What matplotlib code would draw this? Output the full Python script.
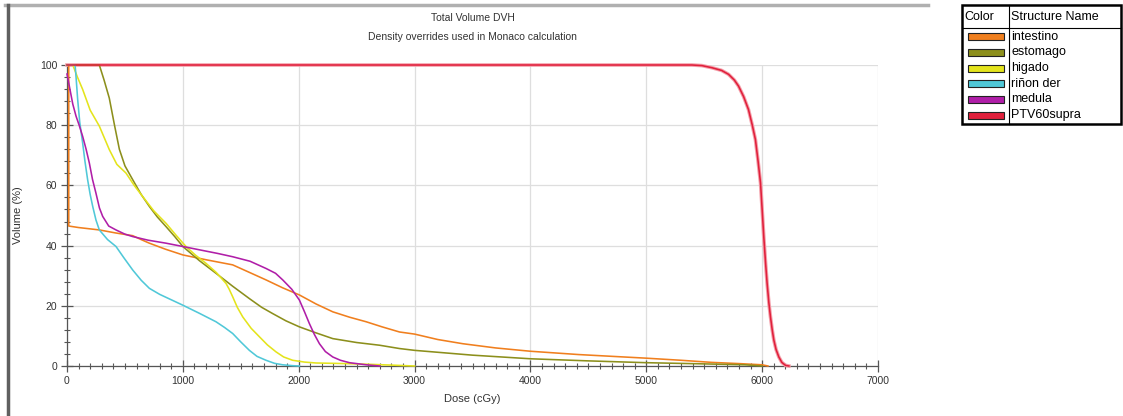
import matplotlib.pyplot as plt
from matplotlib.patches import Rectangle
from matplotlib.lines import Line2D
from matplotlib.ticker import MultipleLocator

plt.rcParams['font.family'] = ['Liberation Sans', 'DejaVu Sans']

structures = ['intestino', 'estomago', 'higado', 'riñon der', 'medula', 'PTV60supra']
colors = ['#f07f1e', '#8c8f1c', '#e4e41c', '#50c8d8', '#b01ea8', '#e0203c']

intestino_dose = [0, 15, 15, 100, 280, 420, 567, 640, 711, 850, 1000, 1200, 1430, 1580,
                  1718, 1860, 2006, 2150, 2294, 2440, 2582, 2720, 2870, 3000, 3200, 3417,
                  3700, 4000, 4417, 5000, 5300, 5566, 5800, 6000, 6050]
intestino_vol = [100, 100, 46.5, 46, 45.2, 44.2, 43.3, 42, 40.8, 38.8, 36.9, 35.3, 33.6, 31,
                 28.6, 26, 23.6, 20.6, 18, 16.2, 14.7, 13, 11.3, 10.6, 8.8, 7.4,
                 6, 4.9, 3.8, 2.6, 1.9, 1.2, 0.8, 0.4, 0]

estomago_dose = [0, 279, 320, 365, 410, 452, 500, 567, 640, 711, 780, 855, 930, 1000,
                 1143, 1286, 1430, 1574, 1680, 1776, 1890, 2006, 2150, 2294, 2500, 2698,
                 2870, 3000, 3500, 4000, 4500, 5000, 5500, 5850, 6000]
estomago_vol = [100, 100, 95, 89, 80, 72, 66.5, 61.9, 57, 53, 49.5, 46.3, 43, 39.7,
                35, 30.8, 26.5, 22.4, 19.5, 17.4, 15, 13, 11, 9.1, 7.8, 6.9,
                5.8, 5.2, 3.6, 2.4, 1.7, 1.1, 0.7, 0.4, 0]

higado_dose = [0, 50, 90, 135, 200, 279, 365, 430, 509, 580, 653, 750, 855, 940, 1027,
               1110, 1200, 1290, 1373, 1400, 1430, 1470, 1517, 1590, 1661, 1730, 1804,
               1870, 1948, 2050, 2150, 2400, 2582, 2800, 3000]
higado_vol = [100, 100, 96, 91.9, 85, 79.7, 71.9, 67, 64.1, 60, 56.3, 51.5, 47.4, 43.5, 39.7,
              36.8, 34.1, 31, 27.4, 25.5, 23, 19.5, 16.3, 12.5, 9.7, 7, 4.7,
              3, 1.9, 1.3, 1, 0.8, 0.6, 0.3, 0]

rinon_dose = [0, 70, 80, 92, 110, 135, 155, 178, 200, 222, 250, 279, 350, 423, 490, 567,
              640, 711, 800, 900, 1000, 1143, 1286, 1360, 1430, 1500, 1574, 1640, 1718,
              1790, 1862, 1950, 2006]
rinon_vol = [100, 100, 95, 88.6, 81, 74.1, 68, 61.9, 57, 53, 48.5, 45.2, 42, 39.7, 36, 31.9,
             28.5, 25.8, 23.8, 22, 20.2, 17.5, 14.7, 12.8, 10.8, 8, 5.2, 3.2, 1.9,
             0.9, 0.4, 0.1, 0]

medula_dose = [0, 20, 50, 78, 105, 135, 165, 193, 220, 250, 280, 308, 360, 423, 500, 567,
               700, 855, 1000, 1143, 1300, 1430, 1580, 1718, 1800, 1862, 1940, 2006, 2050,
               2092, 2135, 2179, 2230, 2294, 2360, 2438, 2582, 2700]
medula_vol = [97, 93, 87, 83, 80, 76.3, 72, 67.4, 62, 57.4, 52.5, 49.7, 46.5, 45.2, 43.8, 43,
              41.8, 40.8, 39.7, 38.6, 37.4, 36.3, 34.8, 32.4, 30.8, 28.6, 25.5, 21.9, 18,
              14.1, 10.5, 7.4, 4.8, 3, 1.9, 1.1, 0.4, 0]

ptv_dose = [0, 5394, 5480, 5566, 5650, 5710, 5760, 5796, 5840, 5882, 5915, 5942, 5965,
            5986, 6000, 6014, 6030, 6043, 6058, 6072, 6087, 6101, 6120, 6144, 6170, 6202, 6231]
ptv_vol = [100, 100, 99.8, 99.1, 98.2, 96.9, 95, 93, 89.5, 85.2, 80, 75.2, 68,
           60.8, 52, 43, 34, 27.4, 21, 16.3, 12, 8.6, 5.5, 3, 1.2, 0.2, 0]

doses = [intestino_dose, estomago_dose, higado_dose, rinon_dose, medula_dose, ptv_dose]
vols = [intestino_vol, estomago_vol, higado_vol, rinon_vol, medula_vol, ptv_vol]

W, H = 1123, 416
fig = plt.figure(figsize=(W / 100, H / 100), dpi=100)
ax = fig.add_axes([67 / W, 1 - 366 / H, (878 - 67) / W, (366 - 65) / H])

for d, v, c in zip(doses, vols, colors):
    if c == colors[-1]:
        # PTV curve: pink halo like the original screenshot
        ax.plot(d, v, color='#f4a0aa', lw=2.6, zorder=3, clip_on=False)
    ax.plot(d, v, color=c, lw=1.15, zorder=4, clip_on=False)

ax.set_xlim(0, 7000)
ax.set_ylim(0, 100)
ax.xaxis.set_major_locator(MultipleLocator(1000))
ax.xaxis.set_minor_locator(MultipleLocator(100))
ax.yaxis.set_major_locator(MultipleLocator(20))
ax.yaxis.set_minor_locator(MultipleLocator(4))
ax.grid(True, which='major', color='#dedede', lw=0.9, zorder=0)
ax.tick_params(which='major', direction='inout', length=8, width=0.9, color='#555555',
               labelsize=7.5, labelcolor='#333333', pad=3)
ax.tick_params(which='minor', direction='inout', length=4, width=0.8, color='#555555')
for s in ['top', 'right']:
    ax.spines[s].set_visible(False)
for s in ['left', 'bottom']:
    ax.spines[s].set_color('#555555')
    ax.spines[s].set_linewidth(0.9)

ax.set_xlabel('Dose (cGy)', fontsize=8, color='#333333', labelpad=6)
ax.set_ylabel('Volume (%)', fontsize=8, color='#333333', labelpad=12)

cx = 0.5 * (67 + 878) / W
fig.text(cx, 1 - 18 / H, 'Total Volume DVH', ha='center', va='center',
         fontsize=7.5, color='#333333')
fig.text(cx, 1 - 37 / H, 'Density overrides used in Monaco calculation',
         ha='center', va='center', fontsize=7.5, color='#333333')

# gray frame of the plot window
fig.add_artist(Line2D([5 / W, 928 / W], [1 - 5 / H, 1 - 5 / H], color='#b0b0b0', lw=2.5))
fig.add_artist(Line2D([8 / W, 8 / W], [0, 1 - 5 / H], color='#606060', lw=2.5))

# legend table
lx0, lx1, ly0, ly1 = 962, 1121, 5, 124
colx = 1009
head_y = 28
fig.add_artist(Rectangle((lx0 / W, 1 - ly1 / H), (lx1 - lx0) / W, (ly1 - ly0) / H,
                         fill=False, ec='black', lw=1.8))
fig.add_artist(Line2D([colx / W, colx / W], [1 - ly1 / H, 1 - ly0 / H], color='black', lw=0.8))
fig.add_artist(Line2D([lx0 / W, lx1 / W], [1 - head_y / H, 1 - head_y / H],
                      color='black', lw=0.8))
fig.text((lx0 + 2) / W, 1 - 17 / H, 'Color', fontsize=9, va='center', ha='left')
fig.text((colx + 2) / W, 1 - 17 / H, 'Structure Name', fontsize=9, va='center', ha='left')
row_h = (ly1 - head_y - 2) / len(structures)
for i, (name, c) in enumerate(zip(structures, colors)):
    yc = head_y + 1 + row_h * (i + 0.5)
    fig.add_artist(Rectangle((968 / W, 1 - (yc + 3.5) / H), 36 / W, 7 / H,
                             fc=c, ec='#222222', lw=0.8))
    fig.text((colx + 2) / W, 1 - yc / H, name, fontsize=9, va='center', ha='left')

fig.savefig('out.png', dpi=100)
